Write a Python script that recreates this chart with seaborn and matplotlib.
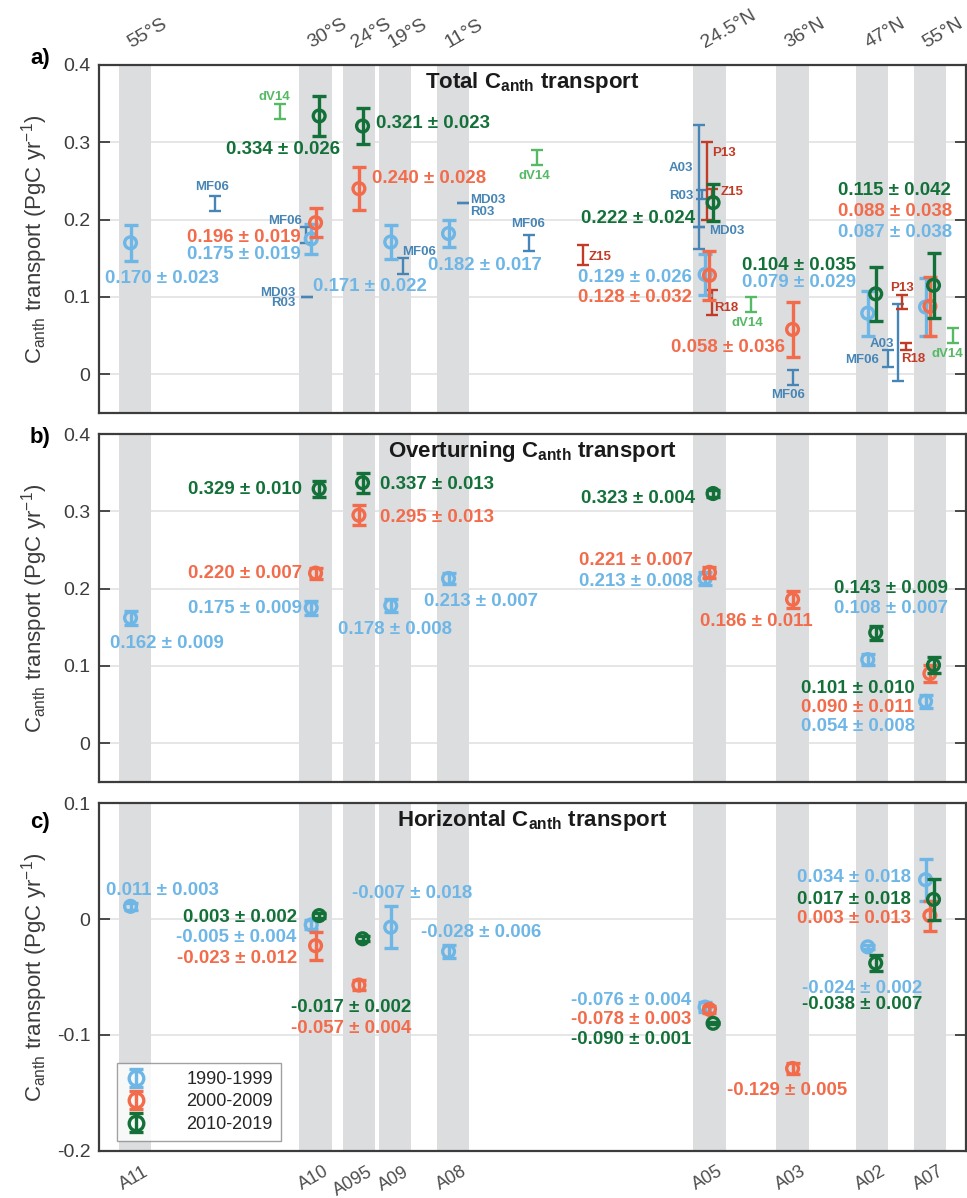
import numpy as np
import pandas as pd
import matplotlib
matplotlib.use("Agg")
import matplotlib.pyplot as plt
import seaborn as sns
from matplotlib.transforms import ScaledTranslation

# ---------------- data ----------------
sections = ['A11', 'A10', 'A095', 'A09', 'A08', 'A05', 'A03', 'A02', 'A07']
lats = [-55, -30, -24, -19, -11, 24.5, 36, 47, 55]
lat_labels = ['55°S', '30°S', '24°S', '19°S', '11°S', '24.5°N', '36°N', '47°N', '55°N']
periods = ['1990-1999', '2000-2009', '2010-2019']
nan = np.nan

total_1990 = [0.170, 0.175, nan, 0.171, 0.182, 0.129, nan, 0.079, 0.087]
total_1990_err = [0.023, 0.019, nan, 0.022, 0.017, 0.026, nan, 0.029, 0.038]
total_2000 = [nan, 0.196, 0.240, nan, nan, 0.128, 0.058, nan, 0.088]
total_2000_err = [nan, 0.019, 0.028, nan, nan, 0.032, 0.036, nan, 0.038]
total_2010 = [nan, 0.334, 0.321, nan, nan, 0.222, nan, 0.104, 0.115]
total_2010_err = [nan, 0.026, 0.023, nan, nan, 0.024, nan, 0.035, 0.042]

over_1990 = [0.162, 0.175, nan, 0.178, 0.213, 0.213, nan, 0.108, 0.054]
over_1990_err = [0.009, 0.009, nan, 0.008, 0.007, 0.008, nan, 0.007, 0.008]
over_2000 = [nan, 0.220, 0.295, nan, nan, 0.221, 0.186, nan, 0.090]
over_2000_err = [nan, 0.007, 0.013, nan, nan, 0.007, 0.011, nan, 0.011]
over_2010 = [nan, 0.329, 0.337, nan, nan, 0.323, nan, 0.143, 0.101]
over_2010_err = [nan, 0.010, 0.013, nan, nan, 0.004, nan, 0.009, 0.010]

horiz_1990 = [0.011, -0.005, nan, -0.007, -0.028, -0.076, nan, -0.024, 0.034]
horiz_1990_err = [0.003, 0.004, nan, 0.018, 0.006, 0.004, nan, 0.002, 0.018]
horiz_2000 = [nan, -0.023, -0.057, nan, nan, -0.078, -0.129, nan, 0.003]
horiz_2000_err = [nan, 0.012, 0.004, nan, nan, 0.003, 0.005, nan, 0.013]
horiz_2010 = [nan, 0.003, -0.017, nan, nan, -0.090, nan, -0.038, 0.017]
horiz_2010_err = [nan, 0.002, 0.002, nan, nan, 0.001, nan, 0.007, 0.018]

# previous studies (panel a)
ref_study = ['dV14', 'MF06', 'MF06', 'MD03', 'MF06', 'MD03', 'MF06', 'dV14', 'Z15', 'A03', 'MD03',
             'R03', 'P13', 'Z15', 'R18', 'dV14', 'MF06', 'A03', 'MF06', 'P13', 'R18', 'dV14']
ref_lat = [-34.9, -43.9, -31.3, -31.2, -17.85, -9.6, -0.4, 0.6, 7.0, 23.1, 23.1,
           23.5, 24.2, 24.9, 24.8, 30.2, 36.1, 50.6, 49.2, 51.1, 51.7, 58.2]
ref_val = [0.340, 0.221, 0.180, 0.100, 0.140, 0.221, 0.170, 0.280, 0.154, 0.242, 0.190,
           0.232, 0.250, 0.234, 0.093, 0.090, -0.004, 0.041, 0.020, 0.093, 0.036, 0.050]
ref_err = [0.010, 0.010, 0.010, 0.0, 0.010, 0.0, 0.010, 0.010, 0.013, 0.080, 0.0,
           0.006, 0.050, 0.006, 0.016, 0.010, 0.010, 0.050, 0.011, 0.009, 0.005, 0.010]

# ---------------- style ----------------
sns.set_theme(style='white')
plt.rcParams['font.family'] = ['Liberation Sans', 'DejaVu Sans']
plt.rcParams['mathtext.fontset'] = 'custom'
plt.rcParams['mathtext.rm'] = 'Liberation Sans'
plt.rcParams['mathtext.bf'] = 'Liberation Sans:bold'
plt.rcParams['mathtext.it'] = 'Liberation Sans:italic'
plt.rcParams['axes.unicode_minus'] = False

colors = ['#6db6e6', '#f26b4b', '#127038']
offsets = [-0.6, 0.0, 0.5]
ref_colors = {'MF06': '#4685b5', 'MD03': '#4685b5', 'R03': '#4685b5', 'A03': '#4685b5',
              'P13': '#c23b27', 'Z15': '#c23b27', 'R18': '#c23b27', 'dV14': '#56b964'}
band_color = '#dcdddf'
spine_color = '#3c3c3c'
text_gray = '#3c3c3c'

panels = [
    dict(name='Total', vals=[(total_1990, total_1990_err), (total_2000, total_2000_err), (total_2010, total_2010_err)],
         ylim=(-0.05, 0.4), yticks=[0, 0.1, 0.2, 0.3, 0.4], ylabels=['0', '0.1', '0.2', '0.3', '0.4'],
         rect=[0.1021, 0.6553, 0.8969, 0.2905], tag='a)', tag_y=1.003),
    dict(name='Overturning', vals=[(over_1990, over_1990_err), (over_2000, over_2000_err), (over_2010, over_2010_err)],
         ylim=(-0.05, 0.4), yticks=[0, 0.1, 0.2, 0.3, 0.4], ylabels=['0', '0.1', '0.2', '0.3', '0.4'],
         rect=[0.1021, 0.3475, 0.8969, 0.2902], tag='b)', tag_y=0.974),
    dict(name='Horizontal', vals=[(horiz_1990, horiz_1990_err), (horiz_2000, horiz_2000_err), (horiz_2010, horiz_2010_err)],
         ylim=(-0.2, 0.1), yticks=[-0.2, -0.1, 0, 0.1], ylabels=['-0.2', '-0.1', '0', '0.1'],
         rect=[0.1021, 0.0395, 0.8969, 0.2900], tag='c)', tag_y=0.929),
]

# value-label placement: (period index, section index, x, y, ha)
label_pos = [
    [(0, 0, -51.2, 0.127, 'center'), (2, 1, -34.45, 0.2935, 'center'), (1, 1, -32.1, 0.180, 'right'),
     (0, 1, -32.1, 0.1577, 'right'), (0, 3, -30.3, 0.1163, 'left'), (2, 2, -21.63, 0.3267, 'left'),
     (1, 2, -22.2, 0.2555, 'left'), (0, 4, -14.48, 0.1435, 'left'), (2, 5, 22.5, 0.2038, 'right'),
     (0, 5, 22.05, 0.1283, 'right'), (1, 5, 22.05, 0.1025, 'right'), (1, 6, 34.97, 0.0369, 'right'),
     (2, 7, 28.97, 0.1435, 'left'), (0, 7, 28.97, 0.1219, 'left'), (2, 8, 42.25, 0.2405, 'left'),
     (1, 8, 42.25, 0.2133, 'left'), (0, 8, 42.25, 0.1853, 'left')],
    [(0, 0, -50.6, 0.1313, 'center'), (2, 1, -31.91, 0.3305, 'right'), (1, 1, -31.91, 0.2219, 'right'),
     (0, 1, -31.91, 0.1766, 'right'), (0, 3, -19.0, 0.150, 'center'), (2, 2, -21.08, 0.3375, 'left'),
     (1, 2, -21.08, 0.2952, 'left'), (0, 4, -14.99, 0.1853, 'left'), (2, 5, 22.5, 0.3189, 'right'),
     (1, 5, 22.27, 0.2392, 'right'), (0, 5, 22.27, 0.212, 'right'), (1, 6, 30.92, 0.1603, 'center'),
     (2, 7, 41.74, 0.2025, 'left'), (0, 7, 41.74, 0.1766, 'left'), (2, 8, 37.13, 0.0731, 'left'),
     (1, 8, 37.13, 0.0485, 'left'), (0, 8, 37.13, 0.0244, 'left')],
    [(0, 0, -51.24, 0.0261, 'center'), (2, 1, -32.6, 0.0031, 'right'), (0, 1, -32.6, -0.0144, 'right'),
     (1, 1, -32.6, -0.0322, 'right'), (0, 3, -16.62, 0.0238, 'center'), (2, 2, -25.05, -0.0747, 'center'),
     (1, 2, -25.05, -0.0926, 'center'), (0, 4, -15.45, -0.0098, 'left'), (0, 5, 21.96, -0.069, 'right'),
     (1, 5, 21.96, -0.0853, 'right'), (2, 5, 21.96, -0.102, 'right'), (1, 6, 35.31, -0.1463, 'center'),
     (0, 8, 52.35, 0.0373, 'right'), (2, 8, 52.35, 0.0186, 'right'), (1, 8, 52.35, 0.0022, 'right'),
     (0, 7, 45.62, -0.0581, 'center'), (2, 7, 45.62, -0.0719, 'center')],
]

ref_label_pos = [
    ('dV14', -35.74, 0.3603, 'center'), ('MF06', -44.3, 0.2435, 'center'), ('MF06', -31.9, 0.2004, 'right'),
    ('MD03', -32.8, 0.1076, 'right'), ('R03', -32.8, 0.0938, 'right'), ('MF06', -18.07, 0.1607, 'left'),
    ('MD03', -8.62, 0.2279, 'left'), ('R03', -8.62, 0.2124, 'left'), ('MF06', -0.64, 0.196, 'center'),
    ('dV14', 0.23, 0.2577, 'center'), ('Z15', 7.75, 0.1542, 'left'), ('A03', 22.27, 0.2685, 'right'),
    ('R03', 22.27, 0.2327, 'right'), ('P13', 24.82, 0.2875, 'left'), ('Z15', 26.07, 0.237, 'left'),
    ('MD03', 24.49, 0.1878, 'left'), ('R18', 25.18, 0.0873, 'left'), ('dV14', 29.8, 0.0679, 'center'),
    ('MF06', 35.42, -0.0248, 'center'), ('A03', 48.34, 0.0408, 'center'), ('MF06', 47.97, 0.0206, 'right'),
    ('P13', 51.2, 0.1141, 'center'), ('R18', 50.97, 0.0214, 'left'), ('dV14', 57.47, 0.0278, 'center'),
]

fig = plt.figure(figsize=(9.67, 11.98), dpi=100)

for pi, p in enumerate(panels):
    ax = fig.add_axes(p['rect'])
    ax.set_xlim(-60, 60)
    ax.set_ylim(*p['ylim'])
    ax.set_axisbelow(True)
    ax.yaxis.grid(True, color='#e4e4e4', lw=1.3)
    ax.xaxis.grid(False)
    for lat in lats:
        ax.axvspan(lat - 2.25, lat + 2.25, color=band_color, lw=0, zorder=1)

    if pi == 0:
        rdf = pd.DataFrame({'study': ref_study, 'lat': ref_lat, 'val': ref_val, 'err': ref_err})
        for _, r in rdf.iterrows():
            ax.errorbar(r.lat, r.val, yerr=r.err, fmt='none', ecolor=ref_colors[r.study],
                        elinewidth=1.7, capsize=4.5, capthick=1.7, zorder=2)
        for txt, x, y, ha in ref_label_pos:
            ax.text(x, y, txt, color=ref_colors[txt], fontsize=9.5, fontweight='bold',
                    ha=ha, va='center_baseline', zorder=6)

    for k, (vals, errs) in enumerate(p['vals']):
        df = pd.DataFrame({'lat': np.array(lats) + offsets[k], 'val': vals, 'err': errs,
                           'period': periods[k]}).dropna()
        ax.errorbar(df['lat'], df['val'], yerr=df['err'], fmt='none', ecolor=colors[k],
                    elinewidth=2.4, capsize=4.8, capthick=2.4, zorder=3 + k)
        sns.scatterplot(data=df, x='lat', y='val', ax=ax, color=colors[k], marker='o', s=72,
                        linewidth=2.4, zorder=3.5 + k, legend=False)
        coll = ax.collections[-1]
        coll.set_facecolors('none')
        coll.set_edgecolors(colors[k])

    for k, si, x, y, ha in label_pos[pi]:
        v = p['vals'][k][0][si]
        e = p['vals'][k][1][si]
        ax.text(x, y, f'{v:.3f} ± {e:.3f}', color=colors[k], fontsize=13.4, fontweight='bold',
                ha=ha, va='center_baseline', zorder=7)

    ax.text(0.5, 0.95, r'%s C$_{\bf anth}$ transport' % p['name'], transform=ax.transAxes,
            ha='center', va='center', fontsize=16, fontweight='bold', color='#1a1a1a')
    ax.text(-0.0792, p['tag_y'], p['tag'], transform=ax.transAxes, ha='left', va='baseline',
            fontsize=16, fontweight='bold', color='black')

    ax.set_yticks(p['yticks'])
    ax.set_yticklabels(p['ylabels'])
    ax.tick_params(axis='y', direction='in', length=8, width=1.3, left=True, right=True,
                   color=spine_color, labelcolor=text_gray, labelsize=14, pad=6)
    ax.set_ylabel(r'C$_{\rm anth}$ transport (PgC yr$^{-1}$)', fontsize=16, color=text_gray)
    ax.yaxis.set_label_coords(-0.056, 0.5)
    ax.set_xlabel('')
    for sp in ax.spines.values():
        sp.set_color(spine_color)
        sp.set_linewidth(1.6)
        sp.set_visible(True)

    if pi == 2:
        ax.set_xticks(lats)
        ax.set_xticklabels(sections, rotation=30, ha='right', rotation_mode='anchor')
        ax.tick_params(axis='x', length=0, labelsize=13, labelcolor='#4d4d4d', pad=9)
        for lab in ax.get_xticklabels():
            lab.set_transform(lab.get_transform() + ScaledTranslation(8 / 100, 0, fig.dpi_scale_trans))
        handles = []
        for k in range(3):
            h = ax.errorbar([nan], [nan], yerr=[nan], fmt='o', color=colors[k], mfc='none', mew=2.4,
                            ms=10.5, elinewidth=2.4, capsize=4.8, capthick=2.4, label=periods[k])
            handles.append(h)
        leg = ax.legend(handles=handles, loc='lower left', bbox_to_anchor=(0.0208, 0.028),
                        borderaxespad=0, frameon=True, fancybox=False, fontsize=13,
                        handlelength=1.2, handletextpad=2.2, borderpad=0.45, labelspacing=0.3)
        leg.get_frame().set_edgecolor('#8a8a8a')
        leg.get_frame().set_linewidth(1.0)
        leg.set_zorder(10)
    else:
        ax.set_xticks([])

    if pi == 0:
        for lat, lab in zip(lats, lat_labels):
            ax.annotate(lab, xy=(lat, 1.0), xycoords=('data', 'axes fraction'), xytext=(-2, 13),
                        textcoords='offset pixels', rotation=30, ha='left', va='bottom',
                        rotation_mode='anchor', fontsize=14, color='#4d4d4d', annotation_clip=False)

fig.savefig('out.png', dpi=100)
